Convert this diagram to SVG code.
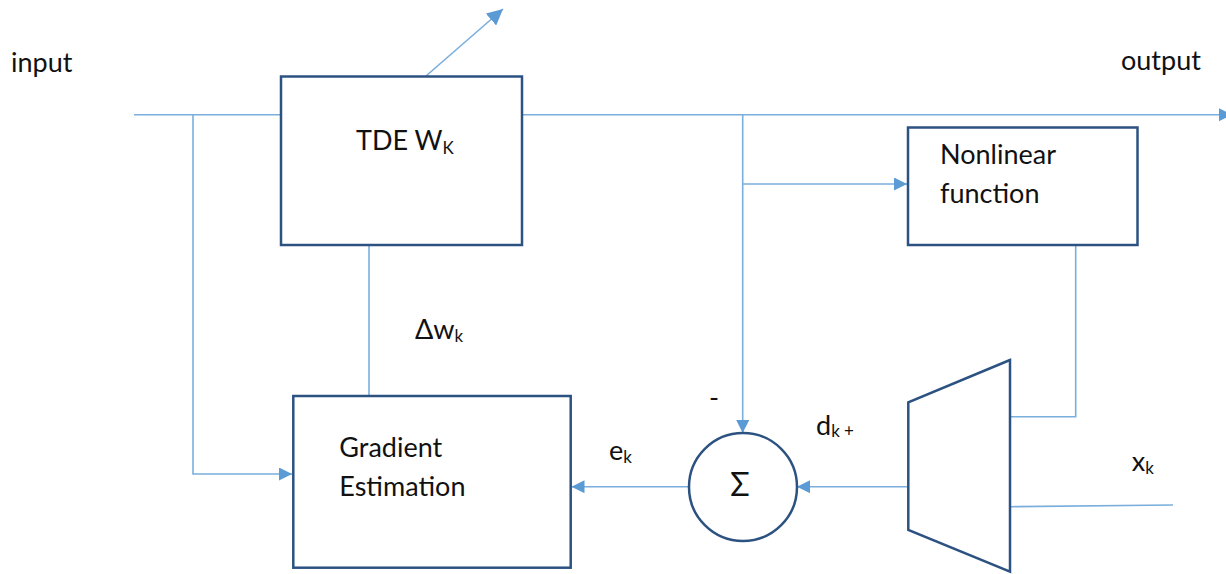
<svg xmlns="http://www.w3.org/2000/svg" width="1226" height="574" viewBox="0 0 1226 574">
<style>
.box{fill:#fff;stroke:#2C5282;stroke-width:2.5}
.box2{fill:none;stroke:#2C5282;stroke-width:2.5;stroke-linejoin:miter}
.c{fill:none;stroke:#7AAEDD;stroke-width:1.6}
.t{font-family:Lato,"Liberation Sans",sans-serif;font-size:27px;fill:#111}
.s{font-size:17px}
</style>
<defs>
<marker id="ah" viewBox="0 0 12 12" refX="12" refY="6" markerWidth="13" markerHeight="13" markerUnits="userSpaceOnUse" orient="auto">
<path d="M0,0 L12,6 L0,12 Z" fill="#5B9BD5"/>
</marker>
<marker id="ahL" viewBox="0 0 14 14" refX="14" refY="7" markerWidth="16" markerHeight="16" markerUnits="userSpaceOnUse" orient="auto">
<path d="M0,0 L14,7 L0,14 Z" fill="#5B9BD5"/>
</marker>
</defs>
<g id="connectors">
<path class="c" d="M134,114.7 H281"/>
<path class="c" d="M193,114.7 V474 H292" marker-end="url(#ah)"/>
<path class="c" d="M522,114.7 H1232" marker-end="url(#ah)"/>
<path class="c" d="M742.7,114.7 V433" marker-end="url(#ah)"/>
<path class="c" d="M742.7,184 H907" marker-end="url(#ah)"/>
<path class="c" d="M369,245 V396"/>
<path class="c" d="M426,76 L503,9" marker-end="url(#ahL)"/>
<path class="c" d="M1075.7,245 V416.7 H1010"/>
<path class="c" d="M908,486.7 H797" marker-end="url(#ah)"/>
<path class="c" d="M689,486.7 H571.5" marker-end="url(#ah)"/>
<path class="c" d="M1010,506.7 L1173,505"/>
</g>
<g id="tde">
<rect class="box" x="281" y="76.5" width="241" height="168.5"/>
<text class="t" x="356" y="150">TDE W<tspan class="s" dy="4">K</tspan></text>
</g>
<g id="nonlinear">
<rect class="box" x="908" y="127.5" width="229.5" height="117.5"/>
<text class="t" x="940" y="164">Nonlinear</text>
<text class="t" x="940" y="203">function</text>
</g>
<g id="gradient">
<rect class="box" x="293.3" y="396" width="277.4" height="171.7"/>
<text class="t" x="339.3" y="456.7">Gradient</text>
<text class="t" x="339.3" y="496">Estimation</text>
</g>
<g id="sum">
<circle class="box" cx="743" cy="487" r="54"/>
<text class="t" x="740" y="496" text-anchor="middle" style="font-size:32px">Σ</text>
</g>
<g id="converter">
<path class="box2" d="M1010,360 L908.3,402.3 L908.3,530 L1010,571.7 Z"/>
</g>
<g id="labels">
<text class="t" x="11" y="71.7">input</text>
<text class="t" x="1121" y="70">output</text>
<text class="t" x="415" y="339">Δw<tspan class="s" dy="3">k</tspan></text>
<text class="t" x="609" y="460">e<tspan class="s" dy="3">k</tspan></text>
<text class="t" x="709" y="407">-</text>
<text class="t" x="816" y="435">d<tspan class="s" dy="2">k +</tspan></text>
<text class="t" x="1131.7" y="471">x<tspan class="s" dy="3">k</tspan></text>
</g>
</svg>
